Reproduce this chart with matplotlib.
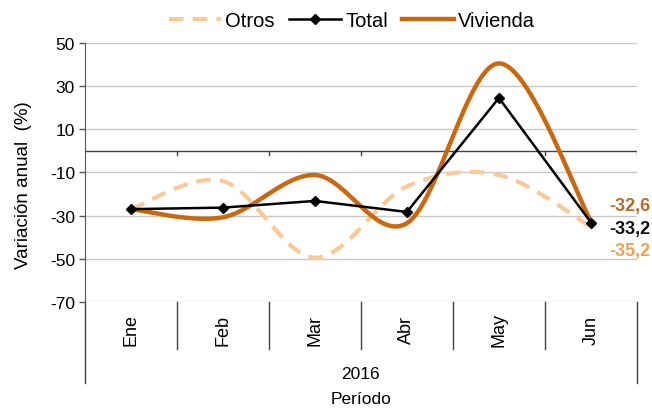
import numpy as np
import matplotlib
matplotlib.use("Agg")
import matplotlib.pyplot as plt
from matplotlib.lines import Line2D

plt.rcParams['font.family'] = ['Liberation Sans', 'DejaVu Sans']

months = ["Ene", "Feb", "Mar", "Abr", "May", "Jun"]
year_label = "2016"
otros = [-27.0, -14.0, -49.5, -16.5, -11.2, -35.2]
total = [-27.0, -26.3, -23.2, -28.3, 24.5, -33.2]
vivienda = [-27.0, -30.8, -11.2, -33.5, 40.5, -32.6]
end_labels = ["-32,6", "-33,2", "-35,2"]
yticks = [-70, -50, -30, -10, 10, 30, 50]

c_viv = '#C8690F'
c_otros = '#F9C998'
c_total = '#000000'


def smooth(xs, ys, n=40):
    # Catmull-Rom style bezier smoothing (like spreadsheet smoothed lines)
    xs = np.asarray(xs, float); ys = np.asarray(ys, float)
    P = np.column_stack([xs, ys])
    out = []
    for i in range(len(P) - 1):
        p0 = P[i - 1] if i > 0 else P[i]
        p1 = P[i]; p2 = P[i + 1]
        p3 = P[i + 2] if i + 2 < len(P) else P[i + 1]
        c1 = p1 + (p2 - p0) / 6.0
        c2 = p2 - (p3 - p1) / 6.0
        t = np.linspace(0, 1, n)[:, None]
        seg = ((1 - t) ** 3) * p1 + 3 * ((1 - t) ** 2) * t * c1 + 3 * (1 - t) * t ** 2 * c2 + t ** 3 * p2
        out.append(seg if i == 0 else seg[1:])
    s = np.vstack(out)
    return s[:, 0], s[:, 1]


fig = plt.figure(figsize=(6.52, 4.10), dpi=100)
ax = fig.add_axes([0.130, 0.261, 0.847, 0.632])

x = np.arange(len(months)) + 0.5

sx, sy = smooth(x, otros)
ax.plot(sx, sy, color=c_otros, lw=3.0, dashes=(3.5, 2.2), solid_capstyle='butt', zorder=2)
ax.plot(x, total, color=c_total, lw=1.8, marker='D', ms=5.5, zorder=4)
sx, sy = smooth(x, vivienda)
ax.plot(sx, sy, color=c_viv, lw=3.2, zorder=3)

ax.set_xlim(0, len(months))
ax.set_ylim(-70, 50)
ax.set_yticks(yticks)
ax.set_yticklabels([str(v) for v in yticks], fontsize=12.5)
ax.yaxis.grid(True, color='#C8C8C8', lw=1.0)
ax.set_axisbelow(True)
ax.tick_params(axis='y', direction='out', length=4, color='#555555', width=1, pad=3)
ax.set_xticks([])
for s in ['top', 'right', 'bottom']:
    ax.spines[s].set_visible(False)
ax.spines['left'].set_color('#555555')

# zero line with tick marks at category boundaries
ax.axhline(0, color='#444444', lw=1.0, zorder=1)
trans = ax.get_xaxis_transform()
for b in range(1, len(months) + 1):
    ax.plot([b, b], [0, -2.0], color='#444444', lw=1.0, zorder=1)

# category axis below plot
for b in range(0, len(months) + 1):
    bottom = -0.313 if b in (0, len(months)) else -0.181
    ax.plot([b, b], [0, bottom], color='#444444', lw=1.0, transform=trans, clip_on=False)
for xi, m in zip(x, months):
    ax.text(xi, -0.105, m, rotation=90, ha='center', va='center', fontsize=13, transform=trans)
ax.text(len(months) / 2, -0.275, year_label, ha='center', va='center', fontsize=12.5, transform=trans)
ax.text(len(months) / 2, -0.374, "Período", ha='center', va='center', fontsize=12.5, transform=trans)

ax.set_ylabel("Variación anual  (%)", fontsize=13.5)
ax.yaxis.set_label_coords(-0.095, 0.455)

# end labels
last = len(months) - 1
ax.annotate(end_labels[0], xy=(x[last], vivienda[last]), xytext=(13, 11.5), textcoords='offset points',
            ha='left', va='center', fontsize=13, fontweight='bold', color='#B86A2E', annotation_clip=False)
ax.annotate(end_labels[1], xy=(x[last], total[last]), xytext=(13, -4.3), textcoords='offset points',
            ha='left', va='center', fontsize=13, fontweight='bold', color='#111111', annotation_clip=False)
ax.annotate(end_labels[2], xy=(x[last], otros[last]), xytext=(13, -17), textcoords='offset points',
            ha='left', va='center', fontsize=13, fontweight='bold', color='#F0A050', annotation_clip=False)

handles = [
    Line2D([], [], color=c_otros, lw=3.0, dashes=(3.5, 2.2)),
    Line2D([], [], color=c_total, lw=1.8, marker='D', ms=5.0),
    Line2D([], [], color=c_viv, lw=3.2),
]
fig.legend(handles, ["Otros", "Total", "Vivienda"], loc='center', bbox_to_anchor=(0.54, 0.948),
           ncol=3, frameon=False, fontsize=14.5, handlelength=2.6, handletextpad=0.2, columnspacing=0.7)

fig.savefig("out.png", dpi=100)
